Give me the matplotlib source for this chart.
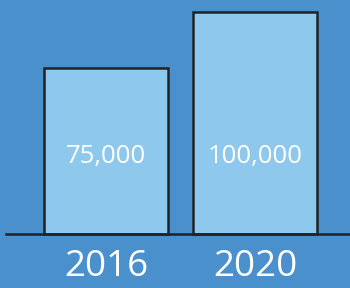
import matplotlib.pyplot as plt

years = ['2016', '2020']
values = [75000, 100000]
labels = ['75,000', '100,000']

bg = '#4a90cc'
bar_color = '#8ec8ec'

fig = plt.figure(figsize=(3.5, 2.88), dpi=100, facecolor=bg)
ax = fig.add_axes([6 / 350, 54 / 288, 344 / 350, 222 / 288])
ax.set_facecolor(bg)

x = range(len(years))
ax.bar(x, values, width=0.837, color=bar_color, edgecolor='#222222', linewidth=1.8, clip_on=False)

# value labels sit at the same height inside both bars
for i, lab in enumerate(labels):
    ax.text(i, 35000, lab, ha='center', va='center', color='white',
            fontsize=18.5, family='Open Sans')

ax.set_xlim(-0.674, 1.639)
ax.set_ylim(0, 100000)
ax.set_xticks(list(x))
ax.set_xticklabels(years, fontsize=26.5, color='white', family='Open Sans')
ax.tick_params(axis='x', length=0, pad=11)
ax.set_yticks([])
for side in ['top', 'right', 'left']:
    ax.spines[side].set_visible(False)
ax.spines['bottom'].set_color('#222222')
ax.spines['bottom'].set_linewidth(1.8)

fig.savefig('out.png', dpi=100, facecolor=bg)
